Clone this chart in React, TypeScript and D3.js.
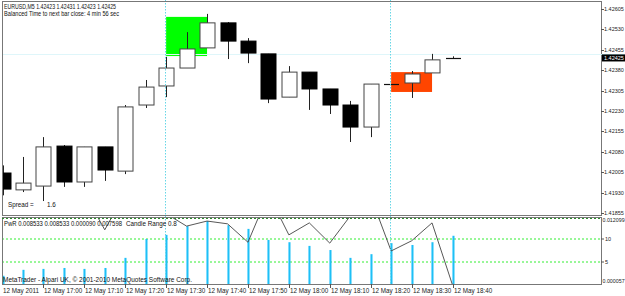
import React from "react";
import * as d3 from "d3";

// ---- data ----
const times = [
  "16:50", "16:55", "17:00", "17:05", "17:10", "17:15", "17:20", "17:25",
  "17:30", "17:35", "17:40", "17:45", "17:50", "17:55", "18:00", "18:05",
  "18:10", "18:15", "18:20", "18:25", "18:30", "18:35", "18:40",
];
const opens = [
  1.42002, 1.4194, 1.41954, 1.42101, 1.41969, 1.42098, 1.42009, 1.42252,
  1.42322, 1.42388, 1.42462, 1.42554, 1.42487, 1.4244, 1.42281, 1.42373,
  1.42311, 1.42252, 1.42171, 1.42329, 1.42333, 1.4237, 1.42423,
];
const highs = [
  1.4203, 1.42061, 1.42134, 1.42105, 1.42098, 1.42098, 1.42252, 1.42344,
  1.42429, 1.4252, 1.42587, 1.42557, 1.42498, 1.4244, 1.42395, 1.42373,
  1.42311, 1.42267, 1.42329, 1.42329, 1.42377, 1.4244, 1.42431,
];
const lows = [
  1.4192, 1.41932, 1.41899, 1.41951, 1.41951, 1.41973, 1.41998, 1.42241,
  1.42281, 1.42388, 1.42462, 1.42421, 1.42406, 1.42259, 1.42281, 1.42234,
  1.42219, 1.42116, 1.42134, 1.42329, 1.42278, 1.4237, 1.42423,
];
const closes = [
  1.41943, 1.41965, 1.42098, 1.41969, 1.42098, 1.42013, 1.42245, 1.42318,
  1.42388, 1.42458, 1.42554, 1.42487, 1.42443, 1.42274, 1.42373, 1.42311,
  1.42252, 1.42171, 1.42329, 1.42329, 1.42366, 1.42418, 1.42425,
];
const candleRange = [
  2.0, 3.3, 3.5, 3.7, 3.5, 3.7, 5.9, 10.0, 10.9, 12.8, 13.9, 13.0, 12.2, 9.8,
  9.3, 8.5, 7.6, 5.9, 6.7, 9.1, 8.7, 9.3, 10.7,
];
const pwr = [
  17, 14.4, 17, 14.6, 20, 12.0, 20, 18, 15.5, 12.8, 13.9, 13.3, 9.3, 19.8,
  10.9, 13.5, 9.1, 15, 19.3, 7.4, 9.6, 13.5, 0.0,
];
const priceTicks = [
  1.42605, 1.4253, 1.42455, 1.4238, 1.42305, 1.4223, 1.42155, 1.4208,
  1.42005, 1.4193, 1.41855,
];
const timeLabels = [
  "12 May 2011", "12 May 17:00", "12 May 17:10", "12 May 17:20",
  "12 May 17:30", "12 May 17:40", "12 May 17:50", "12 May 18:00",
  "12 May 18:10", "12 May 18:20", "12 May 18:30", "12 May 18:40",
];
const timeLabelAt = [
  "16:50", "17:00", "17:10", "17:20", "17:30", "17:40", "17:50", "18:00",
  "18:10", "18:20", "18:30", "18:40",
];
const indLevels = [10, 5];
const boxStart = ["17:30", "18:25"];
const boxEnd = ["17:40", "18:35"];
const boxTop = [1.42576, 1.42373];
const boxBottom = [1.42432, 1.423];
const separators = ["17:30", "18:25"];
const bid = 1.42425;
const ask = 1.42441;
const indTopLabel = "0.012099";
const indBottomLabel = "0.000057";

const parse = (t: string) => new Date(2011, 4, 12, +t.split(":")[0], +t.split(":")[1]);

export default function App() {
  const W = 625, H = 296;
  const left = 2, right = 601, mainTop = 1, mainBottom = 215, indTop = 217, indBottom = 284;

  const x = d3.scaleTime()
    .domain([parse(times[0]), parse(times[times.length - 1])])
    .range([2.5, 452.5]);
  const y = d3.scaleLinear().domain([1.41855, 1.42605]).range([213, 9]);
  const yi = d3.scaleLinear().domain([0, 10]).range([285, 239]);

  const bodyW = 15;
  const font = "'Liberation Sans', Arial, sans-serif";
  const axFs = 5.5;

  const line = d3.line<number>()
    .x((_, i) => x(parse(times[i])))
    .y((d) => yi(d));

  return (
    <svg width={W} height={H} style={{ position: "absolute", left: 0, top: 0, background: "#fff" }}
      fontFamily={font} fontSize={6.3}>
      <defs>
        <clipPath id="mainClip">
          <rect x={left} y={mainTop} width={right - left} height={mainBottom - mainTop} />
        </clipPath>
        <clipPath id="indClip">
          <rect x={left} y={indTop} width={right - left} height={indBottom - indTop} />
        </clipPath>
      </defs>
      <rect x={0} y={0} width={W} height={H} fill="#fff" />

      {/* main panel */}
      <g clipPath="url(#mainClip)">
        {boxStart.map((s, i) => (
          <rect key={"b" + i} x={x(parse(s))} y={y(boxTop[i])}
            width={x(parse(boxEnd[i])) - x(parse(s))} height={y(boxBottom[i]) - y(boxTop[i])}
            fill={i === 0 ? "#00ff00" : "#ff4500"} />
        ))}
        <line x1={left} x2={right} y1={Math.round(y(ask)) + 0.5} y2={Math.round(y(ask)) + 0.5}
          stroke="#dff6fa" strokeWidth={1} />
        {times.map((t, i) => {
          const cx = Math.round(x(parse(t))) + 0.5;
          const o = opens[i], c = closes[i];
          const bull = c >= o;
          const yTop = y(Math.max(o, c)), yBot = y(Math.min(o, c));
          const doji = Math.abs(yBot - yTop) < 1;
          return (
            <g key={t}>
              <line x1={cx} x2={cx} y1={y(highs[i])} y2={y(lows[i])} stroke="#222" strokeWidth={1} />
              {doji ? (
                <line x1={cx - bodyW / 2} x2={cx + bodyW / 2} y1={Math.round(yTop) + 0.5}
                  y2={Math.round(yTop) + 0.5} stroke="#111" strokeWidth={1.2} />
              ) : (
                <rect x={cx - bodyW / 2} y={yTop} width={bodyW} height={yBot - yTop}
                  fill={bull ? "#fff" : "#000"} stroke={bull ? "#444" : "#000"} strokeWidth={1} />
              )}
            </g>
          );
        })}
      </g>

      {/* indicator panel */}
      <g clipPath="url(#indClip)">
        {indLevels.map((lv) => (
          <line key={lv} x1={left} x2={right} y1={yi(lv)} y2={yi(lv)} stroke="#33ee33"
            strokeDasharray="2,2" strokeWidth={1} />
        ))}
        {candleRange.map((v, i) => {
          const cx = Math.round(x(parse(times[i])));
          return (
            <g key={"h" + i}>
              <rect x={cx - 1} y={yi(v)} width={1} height={yi(0) - yi(v)} fill="#7fdcff" />
              <rect x={cx} y={yi(v)} width={1.5} height={yi(0) - yi(v)} fill="#1ec0f5" />
            </g>
          );
        })}
        <path d={line(pwr) || ""} fill="none" stroke="#444" strokeWidth={0.9} />
      </g>

      {/* separators */}
      {separators.map((s) => (
        <line key={s} x1={Math.round(x(parse(s))) - 0.5} x2={Math.round(x(parse(s))) - 0.5}
          y1={0} y2={indBottom} stroke="#66d6e6" strokeWidth={1} strokeDasharray="1.5,1.5" />
      ))}

      {/* frames */}
      <rect x={left + 0.5} y={mainTop + 0.5} width={right - left} height={mainBottom - mainTop}
        fill="none" stroke="#777" strokeWidth={1} />
      <rect x={left + 0.5} y={indTop + 0.5} width={right - left} height={indBottom - indTop}
        fill="none" stroke="#777" strokeWidth={1} />
      <line x1={left} x2={right} y1={indTop + 1.5} y2={indTop + 1.5} stroke="#2a8a2a"
        strokeDasharray="2,2" strokeWidth={1} />

      {/* price axis */}
      {priceTicks.map((p) => (
        <g key={p}>
          <line x1={right} x2={right + 3} y1={Math.round(y(p)) + 0.5} y2={Math.round(y(p)) + 0.5}
            stroke="#555" />
          <text x={604} y={y(p) + 2} fill="#222" fontSize={axFs}>
            {p.toFixed(5)}
          </text>
        </g>
      ))}
      <line x1={right} x2={W} y1={Math.round(y(ask)) + 0.5} y2={Math.round(y(ask)) + 0.5} stroke="#bff0f8" />
      <rect x={right + 1} y={y(bid) - 3.5} width={W - right - 1} height={7} fill="#000" />
      <text x={604} y={y(bid) + 2} fill="#fff" fontSize={axFs}>
        {bid.toFixed(5)}
      </text>

      {/* indicator axis */}
      <text x={602.5} y={indTop + 4.5} fill="#222" fontSize={5.3}>{indTopLabel}</text>
      {indLevels.map((lv) => (
        <g key={"l" + lv}>
          <line x1={right} x2={right + 3} y1={yi(lv)} y2={yi(lv)} stroke="#555" />
          <text x={605} y={yi(lv) + 2} fill="#222" fontSize={axFs}>{lv}</text>
        </g>
      ))}
      <text x={602.5} y={indBottom - 1} fill="#222" fontSize={5.3}>{indBottomLabel}</text>

      {/* time axis */}
      {timeLabels.map((lab, i) => {
        const tx = Math.round(x(parse(timeLabelAt[i])));
        return (
          <g key={lab}>
            {i > 0 && <line x1={tx + 0.5} x2={tx + 0.5} y1={indBottom} y2={indBottom + 4} stroke="#555" />}
            <text x={i === 0 ? 3 : tx + 1} y={293} fill="#222">{lab}</text>
          </g>
        );
      })}

      {/* texts */}
      <text x={4} y={8.5} fill="#111" textLength={112} lengthAdjust="spacingAndGlyphs">
        EURUSD,M5  1.42423 1.42431 1.42423 1.42425
      </text>
      <text x={4} y={16} fill="#111" textLength={115} lengthAdjust="spacingAndGlyphs">
        Balanced Time to next bar close: 4 min 56 sec
      </text>
      <text x={8} y={207} fill="#111">Spread  =</text>
      <text x={47} y={207} fill="#111">1.6</text>
      <text x={4} y={226} fill="#111" textLength={118} lengthAdjust="spacingAndGlyphs">
        PwR 0.008533 0.008533 0.000090 0.007598
      </text>
      <text x={126} y={226} fill="#111">Candle Range 0.8</text>
      <text x={3} y={281.5} fill="#111" textLength={189} lengthAdjust="spacingAndGlyphs">
        MetaTrader - Alpari UK, © 2001-2010 MetaQuotes Software Corp.
      </text>
    </svg>
  );
}
